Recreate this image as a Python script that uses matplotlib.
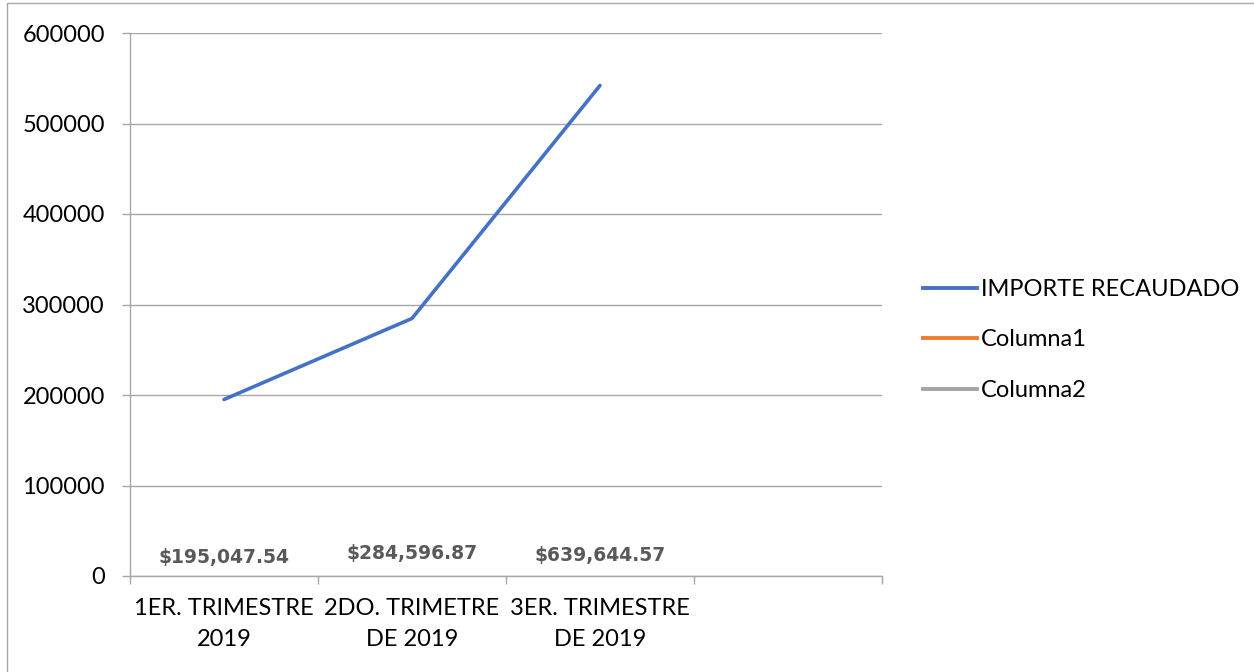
import matplotlib
matplotlib.use("Agg")
import matplotlib.pyplot as plt
from matplotlib.lines import Line2D
from matplotlib.patches import Rectangle

categories = ["1ER. TRIMESTRE\n2019", "2DO. TRIMETRE\nDE 2019", "3ER. TRIMESTRE\nDE 2019", ""]
importe = [195047.54, 284596.87, 542000.0]
data_labels = ["$195,047.54", "$284,596.87", "$639,644.57"]
label_y = [20000, 25000, 22500]
series_names = ["IMPORTE RECAUDADO", "Columna1", "Columna2"]
series_colors = ["#4472C4", "#ED7D31", "#A5A5A5"]
yticks = [0, 100000, 200000, 300000, 400000, 500000, 600000]

plt.rcParams['font.family'] = ['Lato', 'DejaVu Sans']

W, H = 1254, 672
fig = plt.figure(figsize=(W / 100, H / 100), dpi=100)
ax = fig.add_axes([130 / W, 1 - 576 / H, (882 - 130) / W, (576 - 33) / H])

grid_c = "#A6A6A6"
x = list(range(len(importe)))
ax.plot(x, importe, color=series_colors[0], lw=2.6, solid_capstyle="round", zorder=3)

for xi, lab, ly in zip(x, data_labels, label_y):
    ax.text(xi, ly, lab, ha="center", va="center", fontsize=13.5,
            fontweight="bold", color="#595959", family="DejaVu Sans")

ax.set_xlim(-0.5, len(categories) - 0.5)
ax.set_ylim(0, 600000)
ax.set_yticks(yticks)
ax.set_yticklabels([str(v) for v in yticks])
ax.yaxis.grid(True, color=grid_c, lw=1.0)
ax.set_axisbelow(True)

ax.set_xticks([i - 0.5 for i in range(len(categories) + 1)])
ax.set_xticklabels([])
ax.set_xticks(range(len(categories)), minor=True)
ax.set_xticklabels(categories, minor=True, fontsize=17, linespacing=1.55)
ax.tick_params(axis="x", which="major", length=6, color=grid_c, width=1.0)
ax.tick_params(axis="x", which="minor", length=0, pad=16)
ax.tick_params(axis="y", length=6, color=grid_c, width=1.0, labelsize=17, pad=12)

for s in ["top", "right"]:
    ax.spines[s].set_visible(False)
for s in ["left", "bottom"]:
    ax.spines[s].set_color(grid_c)
    ax.spines[s].set_linewidth(1.0)

handles = [Line2D([], [], color=c, lw=2.8) for c in series_colors]
fig.legend(handles, series_names, loc="center left",
           bbox_to_anchor=(923 / W, 1 - 340 / H), frameon=False,
           fontsize=17, handlelength=2.3, handletextpad=0.15,
           labelspacing=1.25, borderpad=0, borderaxespad=0)

fig.patches.append(Rectangle((7 / W, -0.1), 1.2, 1 - 3 / H + 0.1,
                             transform=fig.transFigure, fill=False,
                             edgecolor="#A6A6A6", lw=1.0))

fig.savefig("out.png", dpi=100)
